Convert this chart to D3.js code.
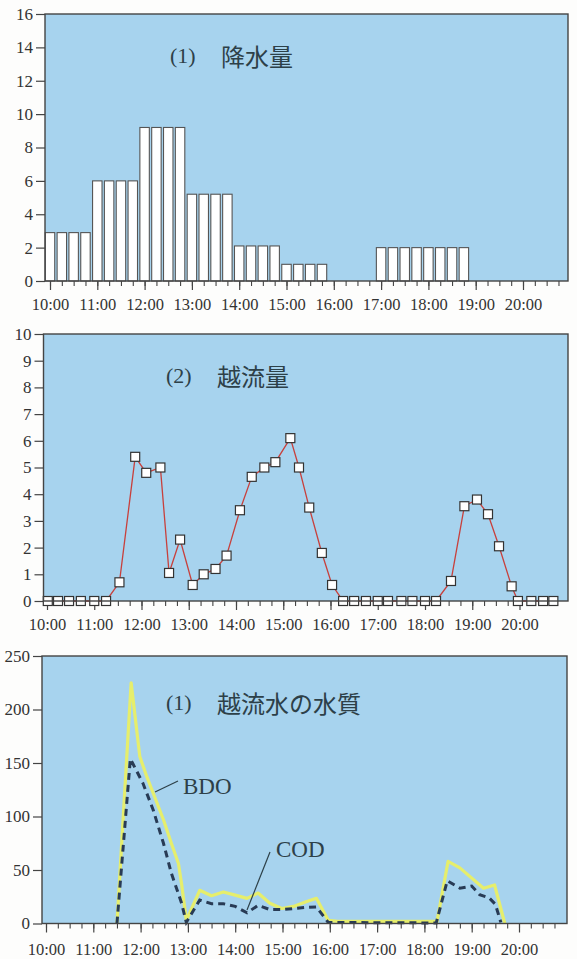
<!DOCTYPE html>
<html>
<head>
<meta charset="utf-8">
<script src="https://cdn.jsdelivr.net/npm/d3@7"></script>
<style>
  body { margin: 0; background: #fdfdfc; }
  svg { display: block; }
</style>
</head>
<body>
<svg id="chart" width="577" height="959"></svg>
<script>
// x tick labels (hours)
var hourLabels = ["10:00","11:00","12:00","13:00","14:00","15:00","16:00","17:00","18:00","19:00","20:00"];

// (1) rainfall, 15-minute bars
var rainTimes = ["10:00","10:15","10:30","10:45","11:00","11:15","11:30","11:45",
  "12:00","12:15","12:30","12:45","13:00","13:15","13:30","13:45",
  "14:00","14:15","14:30","14:45","15:00","15:15","15:30","15:45",
  "16:00","16:15","16:30","16:45","17:00","17:15","17:30","17:45",
  "18:00","18:15","18:30","18:45"];
var rainfall = [2.9,2.9,2.9,2.9, 6.0,6.0,6.0,6.0,
  9.2,9.2,9.2,9.2, 5.2,5.2,5.2,5.2,
  2.1,2.1,2.1,2.1, 1.0,1.0,1.0,1.0,
  0,0,0,0, 2.0,2.0,2.0,2.0,
  2.0,2.0,2.0,2.0];

// (2) overflow volume
var flowTimes = ["10:01","10:14","10:28","10:43","11:00","11:15","11:32","11:52",
  "12:06","12:24","12:35","12:49","13:05","13:19","13:34","13:48",
  "14:05","14:20","14:36","14:50","15:09","15:20","15:33","15:49",
  "16:02","16:16","16:30","16:45","17:00","17:13","17:30","17:44",
  "18:00","18:14","18:33","18:50","19:06","19:20","19:34","19:50",
  "19:58","20:15","20:30","20:43"];
var overflow = [0,0,0,0,0,0,0.7,5.4,
  4.8,5.0,1.05,2.3,0.6,1.0,1.2,1.7,
  3.4,4.65,5.0,5.2,6.1,5.0,3.5,1.8,
  0.6,0,0,0,0,0,0,0,
  0,0,0.75,3.55,3.8,3.25,2.05,0.55,
  0,0,0,0];

// (1) overflow water quality
var bdoTimes = ["11:30","11:48","11:59","12:08","12:18","12:29","12:39","12:48","12:52","12:58",
  "13:15","13:30","13:45","14:00","14:15","14:29","14:44","14:59","15:14","15:29","15:43",
  "15:58","16:10","18:16","18:30","18:45","19:15","19:29","19:42"];
var bdo = [0,225,156,137,118,97,75,56,37,3,
  31,26,29.5,26.5,23.5,28.5,19,14,16,20,23.5,
  3,2,2,58,52,33,36,0];

var codTimes = ["11:30","11:47","12:03","12:16","12:29","12:39","12:52","12:58",
  "13:15","13:30","13:45","14:00","14:15","14:29","14:44","14:59","15:14","15:29","15:43",
  "15:58","18:15","18:29","18:45","19:00","19:10","19:22","19:30","19:37"];
var cod = [0,154,131,106,75,47,19,1,
  22,18.5,18.5,16,10,17,13,13,14,15,15.5,
  1,0.5,40,33,35,27,24,18,1];

function minutes(s) {
  var p = s.split(":");
  return (+p[0] - 10) * 60 + (+p[1]);
}

var svg = d3.select("#chart");
var serif = "'Liberation Serif', 'DejaVu Serif', serif";
var cjk = "'Noto Sans CJK JP', sans-serif";

var panels = [
  {top: 14, bottom: 281, left: 45, right: 568, x10: 50, x20: 523, ymax: 16, ystep: 2, pad: 8,
   num: "(1)", title: "降水量", tx: 170, ty: 55},
  {top: 334, bottom: 601, left: 43.5, right: 568, x10: 47, x20: 519.5, ymax: 10, ystep: 1, pad: 8,
   num: "(2)", title: "越流量", tx: 166, ty: 375},
  {top: 656, bottom: 923.5, left: 42, right: 567, x10: 46, x20: 519, ymax: 250, ystep: 50, pad: 11,
   num: "(1)", title: "越流水の水質", tx: 166, ty: 702}
];

panels.forEach(function(p) {
  p.x = d3.scaleLinear().domain([0, 600]).range([p.x10, p.x20]);
  p.y = d3.scaleLinear().domain([0, p.ymax]).range([p.bottom, p.top]);
  var g = svg.append("g");
  p.g = g;

  g.append("rect")
    .attr("x", p.left).attr("y", p.top)
    .attr("width", p.right - p.left).attr("height", p.bottom - p.top)
    .attr("fill", "#a7d3ee");

  // y axis
  var ya = g.append("g")
    .attr("transform", "translate(" + p.left + ",0)")
    .call(d3.axisLeft(p.y).tickValues(d3.range(0, p.ymax + p.ystep / 2, p.ystep)).tickSize(9).tickPadding(3));
  ya.select(".domain").remove();
  ya.selectAll("line").attr("stroke", "#444").attr("stroke-width", 1.2);
  ya.selectAll("text").attr("font-family", serif).attr("font-size", 17).attr("fill", "#333");

  // x axis: minor every 15 min, major on the hour
  var minor = g.append("g")
    .attr("transform", "translate(0," + p.bottom + ")")
    .call(d3.axisBottom(p.x).tickValues(d3.range(0, 646, 15)).tickSize(5).tickFormat(""));
  minor.select(".domain").remove();
  minor.selectAll("line").attr("stroke", "#444").attr("stroke-width", 1.1);

  var major = g.append("g")
    .attr("transform", "translate(0," + p.bottom + ")")
    .call(d3.axisBottom(p.x).tickValues(hourLabels.map(minutes)).tickSize(9).tickPadding(p.pad)
      .tickFormat(function(d, i) { return hourLabels[i]; }));
  major.select(".domain").remove();
  major.selectAll("line").attr("stroke", "#444").attr("stroke-width", 1.2);
  major.selectAll("text").attr("font-family", serif).attr("font-size", 16.5).attr("fill", "#333");

  // title
  g.append("text")
    .attr("x", p.tx).attr("y", p.ty).attr("dominant-baseline", "central")
    .attr("font-family", serif).attr("font-size", 22).attr("fill", "#2d4048")
    .text(p.num);
  g.append("text")
    .attr("x", p.tx + 51).attr("y", p.ty).attr("dominant-baseline", "central")
    .attr("font-family", cjk).attr("font-size", 24).attr("fill", "#2d4048")
    .text(p.title);
});

// panel 1: bars
var p1 = panels[0];
p1.g.append("g").selectAll("rect")
  .data(rainfall.map(function(v, i) { return {t: minutes(rainTimes[i]), v: v}; }).filter(function(d) { return d.v > 0; }))
  .enter().append("rect")
    .attr("x", function(d) { return p1.x(d.t - 6); })
    .attr("width", function(d) { return p1.x(d.t + 6) - p1.x(d.t - 6); })
    .attr("y", function(d) { return p1.y(d.v); })
    .attr("height", function(d) { return p1.y(0) - p1.y(d.v); })
    .attr("fill", "#fff").attr("stroke", "#555").attr("stroke-width", 1.1);

// panel 2: line with square markers
var p2 = panels[1];
var flowData = overflow.map(function(v, i) { return {t: minutes(flowTimes[i]), v: v}; });
p2.g.append("path")
  .datum(flowData)
  .attr("fill", "none").attr("stroke", "#c8403c").attr("stroke-width", 1.3)
  .attr("d", d3.line().x(function(d) { return p2.x(d.t); }).y(function(d) { return p2.y(d.v); }));
p2.g.append("g").selectAll("rect")
  .data(flowData)
  .enter().append("rect")
    .attr("x", function(d) { return p2.x(d.t) - 4.5; })
    .attr("y", function(d) { return p2.y(d.v) - 4.5; })
    .attr("width", 9).attr("height", 9)
    .attr("fill", "#fff").attr("stroke", "#333").attr("stroke-width", 1.2);

// panel 3: BDO / COD
var p3 = panels[2];
var line3 = d3.line().x(function(d) { return p3.x(d.t); }).y(function(d) { return p3.y(d.v); });
p3.g.append("path")
  .datum(bdo.map(function(v, i) { return {t: minutes(bdoTimes[i]), v: v}; }))
  .attr("fill", "none").attr("stroke", "#e6ee6c").attr("stroke-width", 3.2).attr("stroke-linejoin", "round")
  .attr("d", line3);
p3.g.append("path")
  .datum(cod.map(function(v, i) { return {t: minutes(codTimes[i]), v: v}; }))
  .attr("fill", "none").attr("stroke", "#283b55").attr("stroke-width", 3).attr("stroke-dasharray", "7,5")
  .attr("d", line3);

// series labels with leader lines
p3.g.append("line").attr("x1", 155).attr("y1", 792).attr("x2", 178).attr("y2", 781)
  .attr("stroke", "#2d4048").attr("stroke-width", 1.2);
p3.g.append("text").attr("x", 183).attr("y", 794)
  .attr("font-family", serif).attr("font-size", 23).attr("fill", "#2d4048").text("BDO");
p3.g.append("line").attr("x1", 270).attr("y1", 852).attr("x2", 247).attr("y2", 910)
  .attr("stroke", "#2d4048").attr("stroke-width", 1.2);
p3.g.append("text").attr("x", 276).attr("y", 857)
  .attr("font-family", serif).attr("font-size", 23).attr("fill", "#2d4048").text("COD");

// frames on top
panels.forEach(function(p) {
  p.g.append("rect")
    .attr("x", p.left).attr("y", p.top)
    .attr("width", p.right - p.left).attr("height", p.bottom - p.top)
    .attr("fill", "none").attr("stroke", "#444").attr("stroke-width", 1.4);
});
</script>
</body>
</html>
